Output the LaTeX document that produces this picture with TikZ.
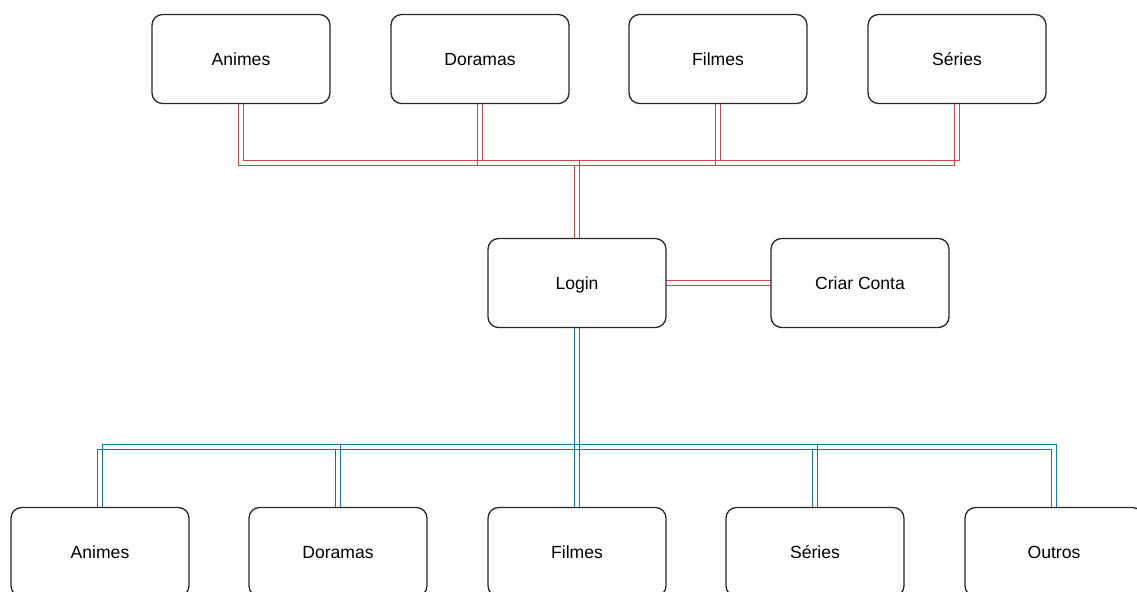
\documentclass[tikz,border=0pt]{standalone}
\usepackage{fontspec}
\setmainfont{Liberation Sans}
\usetikzlibrary{positioning}
\usetikzlibrary{backgrounds}
\definecolor{linkred}{RGB}{204,72,72}
\definecolor{linkblue}{RGB}{22,118,165}
\definecolor{boxline}{RGB}{40,40,40}

% two parallel strokes of one link
\newcommand{\twinlink}[2]{%
	\draw[#1, transform canvas={shift={(1.4pt,1.4pt)}}] #2;
	\draw[#1, transform canvas={shift={(-1.4pt,-1.4pt)}}] #2;}

\begin{document}
\begin{tikzpicture}[x=0.02cm, y=-0.02cm,
	b/.style  = {rectangle, draw=boxline, fill=white, line width=0.75pt, rounded corners=6pt, minimum width=3.56cm, minimum height=1.78cm, text height=1.7ex, text depth=0.35ex, font=\fontsize{10}{12}\selectfont},
	rl/.style = {draw=linkred, line width=1.05pt, shorten <=-2.5pt, shorten >=-2.5pt},
	bl/.style = {draw=linkblue, line width=1.05pt, shorten <=-2.5pt, shorten >=-2.5pt}
	]
	\useasboundingbox (0,0) rectangle (1137,592);
	
	%Nodes
	\node[b]	(t-an)	at	(241, 59)	{Animes};
	\node[b]	(t-do)	at	(480, 59)	{Doramas};
	\node[b]	(t-fi)	at	(718, 59)	{Filmes};
	\node[b]	(t-se)	at	(957, 59)	{Séries};
	
	\node[b]	(login)	at	(577, 283)	{Login};
	\node[b]	(conta)	at	(860, 283)	{Criar Conta};
	
	\node[b]	(b-an)	at	(100, 552)	{Animes};
	\node[b]	(b-do)	at	(338, 552)	{Doramas};
	\node[b]	(b-fi)	at	(577, 552)	{Filmes};
	\node[b]	(b-se)	at	(815, 552)	{Séries};
	\node[b]	(b-ou)	at	(1054, 552)	{Outros};
	
	\coordinate (rbus) at (577, 163);
	\coordinate (bbus) at (577, 447);
	
	%Lines
	\begin{scope}[on background layer]
	\twinlink{rl}{(login.north) -- (rbus) -| (t-an.south)}
	\twinlink{rl}{(login.north) -- (rbus) -| (t-do.south)}
	\twinlink{rl}{(login.north) -- (rbus) -| (t-fi.south)}
	\twinlink{rl}{(login.north) -- (rbus) -| (t-se.south)}
	\twinlink{rl}{(login.east) -- (conta.west)}
	
	\twinlink{bl}{(login.south) -- (bbus) -| (b-an.north)}
	\twinlink{bl}{(login.south) -- (bbus) -| (b-do.north)}
	\twinlink{bl}{(login.south) -- (bbus) -| (b-fi.north)}
	\twinlink{bl}{(login.south) -- (bbus) -| (b-se.north)}
	\twinlink{bl}{(login.south) -- (bbus) -| (b-ou.north)}
	\end{scope}
	
\end{tikzpicture}
\end{document}
